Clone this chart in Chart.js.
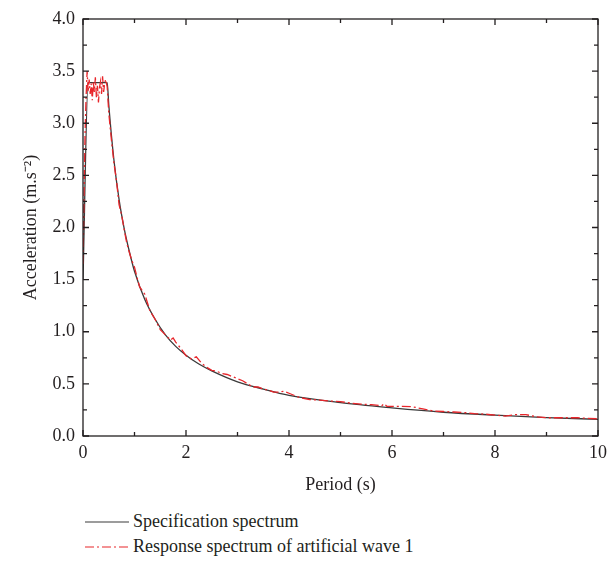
<!DOCTYPE html>
<html>
<head>
<meta charset="utf-8">
<script src="https://cdn.jsdelivr.net/npm/chart.js@4"></script>
<style>
  html, body { margin: 0; padding: 0; background: #fff; }
  #wrap { position: relative; width: 616px; height: 563px; }
  #chart { position: absolute; left: 0; top: 0; }
  .legend { position: absolute; left: 85px; font-family: "Liberation Serif", serif; font-size: 18px; color: #231f20; }
  .legend div { display: flex; align-items: center; height: 25px; }
  .legend svg { margin-right: 4px; }
</style>
</head>
<body>
<div id="wrap">
  <canvas id="chart" width="616" height="500"></canvas>
  <div class="legend" style="top: 509px;">
    <div><svg width="44" height="6"><line x1="0" y1="3" x2="44" y2="3" stroke="#3a3a3a" stroke-width="1.2"/></svg>Specification spectrum</div>
    <div><svg width="44" height="6"><line x1="0" y1="3" x2="44" y2="3" stroke="#e8262b" stroke-width="1.2" stroke-dasharray="9,3,2,3"/></svg>Response spectrum of artificial wave 1</div>
  </div>
</div>
<script>
// Specification (design) spectrum
const specPeriods = [0, 0.1, 0.47, 0.5, 0.6, 0.7, 0.8, 0.9, 1.0, 1.2, 1.4, 1.6, 1.8, 2.0, 2.25, 2.5, 3.0, 3.5, 4.0, 5.0, 6.0, 7.0, 8.0, 9.0, 10.0];
const specValues  = [1.5, 3.39, 3.39, 3.18, 2.65, 2.27, 1.99, 1.77, 1.58, 1.31, 1.12, 0.97, 0.86, 0.775, 0.69, 0.625, 0.52, 0.45, 0.39, 0.32, 0.27, 0.228, 0.2, 0.177, 0.16];

// Response spectrum of artificial wave 1
const respPeriods = [0, 0.02, 0.04, 0.06, 0.08, 0.1, 0.12, 0.14, 0.16, 0.18, 0.2, 0.22, 0.24, 0.26, 0.28, 0.3, 0.32, 0.34, 0.36, 0.38, 0.4, 0.42, 0.44, 0.47,
  0.5, 0.55, 0.6, 0.65, 0.7, 0.75, 0.8, 0.85, 0.9, 0.95, 1.0, 1.05, 1.1, 1.2, 1.3, 1.4, 1.5, 1.6, 1.7, 1.75, 1.8, 1.9,
  2.0, 2.1, 2.2, 2.3, 2.4, 2.5, 2.6, 2.7, 2.8, 2.9, 3.0, 3.1, 3.2, 3.3, 3.4, 3.5, 3.6, 3.7, 3.8, 3.9, 4.0,
  4.2, 4.4, 4.6, 4.8, 5.0, 5.2, 5.4, 5.6, 5.8, 5.85, 5.9, 6.0, 6.2, 6.4, 6.6, 6.8, 7.0, 7.2, 7.4, 7.6, 7.8,
  8.0, 8.2, 8.4, 8.6, 8.8, 9.0, 9.2, 9.4, 9.6, 9.8, 10.0];
const respValues = [1.65, 2.3, 2.9, 3.25, 3.5, 3.3, 3.42, 3.28, 3.38, 3.22, 3.4, 3.3, 3.44, 3.25, 3.36, 3.2, 3.34, 3.4, 3.28, 3.45, 3.3, 3.38, 3.42, 3.35,
  3.1, 2.85, 2.62, 2.45, 2.22, 2.12, 1.98, 1.85, 1.76, 1.68, 1.62, 1.52, 1.43, 1.36, 1.2, 1.12, 1.02, 0.97, 0.92, 0.94, 0.9, 0.84,
  0.77, 0.74, 0.76, 0.7, 0.66, 0.63, 0.62, 0.6, 0.59, 0.57, 0.55, 0.53, 0.5, 0.47, 0.47, 0.45, 0.44, 0.42, 0.42, 0.43, 0.41,
  0.37, 0.35, 0.345, 0.335, 0.33, 0.315, 0.305, 0.3, 0.29, 0.31, 0.285, 0.285, 0.285, 0.28, 0.26, 0.24, 0.235, 0.23, 0.225, 0.215, 0.21,
  0.2, 0.19, 0.205, 0.205, 0.185, 0.175, 0.175, 0.175, 0.175, 0.17, 0.165];

const xTicks = [0, 2, 4, 6, 8, 10];
const yTicks = [0, 0.5, 1.0, 1.5, 2.0, 2.5, 3.0, 3.5, 4.0];

const toPoints = (xs, ys) => xs.map((x, i) => ({ x: x, y: ys[i] }));
const font = { family: "Liberation Serif", size: 18 };
const ink = "#231f20";

// frame with inward ticks (major + minor)
const framePlugin = {
  id: "frame",
  afterDraw(chart) {
    const { ctx, chartArea: a, scales } = chart;
    const sx = scales.x, sy = scales.y;
    ctx.save();
    ctx.strokeStyle = ink;
    ctx.lineWidth = 1.3;
    ctx.strokeRect(a.left, a.top, a.right - a.left, a.bottom - a.top);
    ctx.beginPath();
    for (let v = 0; v <= 10; v += 1) {
      const len = v % 2 === 0 ? 6 : 4;
      const px = sx.getPixelForValue(v);
      ctx.moveTo(px, a.bottom); ctx.lineTo(px, a.bottom - len);
      ctx.moveTo(px, a.top); ctx.lineTo(px, a.top + len);
    }
    for (let v = 0; v <= 4.001; v += 0.25) {
      const len = Math.round(v * 4) % 2 === 0 ? 6 : 4;
      const py = sy.getPixelForValue(v);
      ctx.moveTo(a.left, py); ctx.lineTo(a.left + len, py);
      ctx.moveTo(a.right, py); ctx.lineTo(a.right - len, py);
    }
    ctx.stroke();
    ctx.restore();
  }
};

new Chart(document.getElementById("chart"), {
  type: "line",
  data: {
    datasets: [
      {
        label: "Specification spectrum",
        data: toPoints(specPeriods, specValues),
        borderColor: "#3a3a3a",
        borderWidth: 1.3,
        pointRadius: 0,
        cubicInterpolationMode: "monotone",
        order: 2
      },
      {
        label: "Response spectrum of artificial wave 1",
        data: toPoints(respPeriods, respValues),
        borderColor: "#e8262b",
        borderWidth: 1.3,
        borderDash: [9, 3, 2, 3],
        pointRadius: 0,
        tension: 0,
        order: 1
      }
    ]
  },
  options: {
    responsive: false,
    animation: false,
    layout: { padding: { top: 19, right: 18, left: 0, bottom: 0 } },
    plugins: { legend: { display: false }, tooltip: { enabled: false } },
    scales: {
      x: {
        type: "linear",
        min: 0, max: 10,
        afterFit: (s) => { s.height = 64; },
        afterBuildTicks: (s) => { s.ticks = xTicks.map(v => ({ value: v })); },
        grid: { display: false, drawTicks: false },
        border: { display: false },
        ticks: { font: font, color: ink, padding: 6, maxRotation: 0 },
        title: { display: true, text: "Period (s)", font: font, color: ink, padding: { top: 4, bottom: 4 } }
      },
      y: {
        type: "linear",
        min: 0, max: 4,
        afterFit: (s) => { s.width = 83; },
        afterBuildTicks: (s) => { s.ticks = yTicks.map(v => ({ value: v })); },
        grid: { display: false, drawTicks: false },
        border: { display: false },
        ticks: { font: font, color: ink, padding: 8, callback: (v) => v.toFixed(1) },
        title: { display: true, text: "Acceleration (m.s\u207B\u00B2)", font: font, color: ink, padding: { top: 20, bottom: 20 } }
      }
    }
  },
  plugins: [framePlugin]
});
</script>
</body>
</html>
